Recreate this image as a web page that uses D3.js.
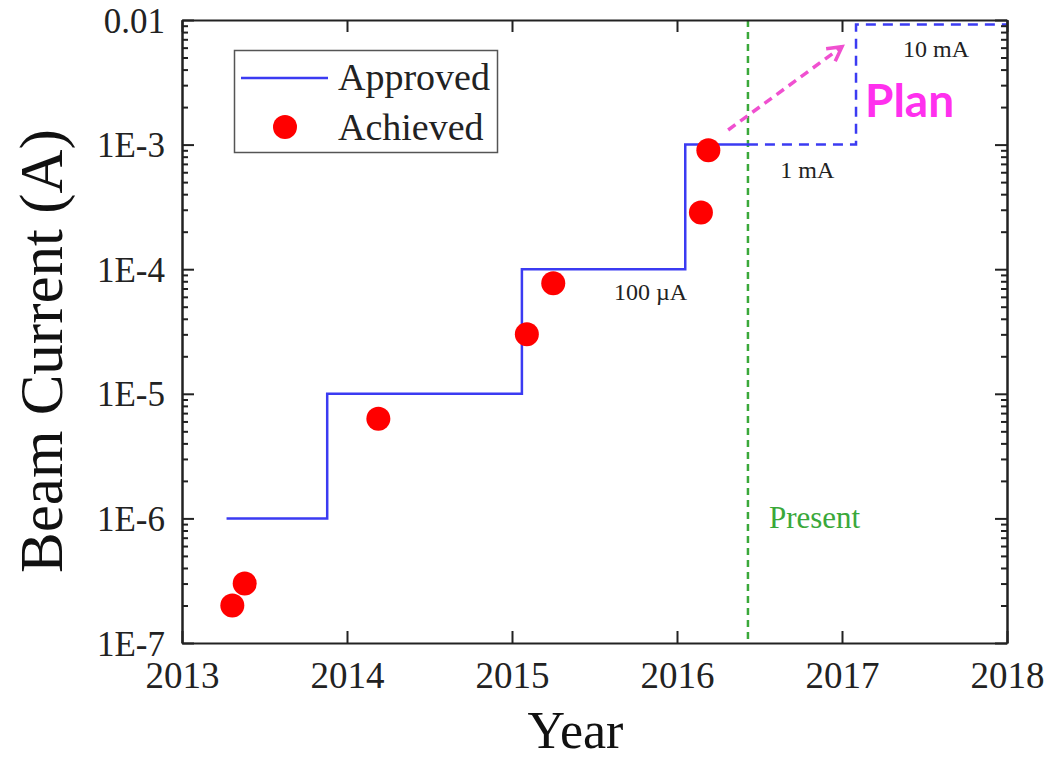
<!DOCTYPE html>
<html>
<head>
<meta charset="utf-8">
<script src="https://cdn.jsdelivr.net/npm/d3@7"></script>
<style>
  html, body { margin: 0; padding: 0; background: #fff; }
  svg { display: block; }
</style>
</head>
<body>
<svg id="chart" width="1052" height="759"></svg>
<script>
// Approved beam current limit (step changes) up to the present date
const approvedYears  = [2013.27, 2013.88, 2015.06, 2016.05, 2016.43];
const approvedValues = [1e-6, 1e-5, 1e-4, 1e-3, 1e-3];

// Planned upgrade path after the present date
const planYears  = [2016.43, 2017.085, 2018];
const planValues = [1e-3, 9.2e-3, 9.2e-3];

// Beam currents reached so far
const achievedYears  = [2013.305, 2013.38, 2014.19, 2015.09, 2015.25, 2016.145, 2016.19];
const achievedValues = [2e-7, 3e-7, 6.3e-6, 3e-5, 7.7e-5, 2.85e-4, 9e-4];

// Present-day marker
const presentYear = 2016.43;

// Arrow pointing toward the plan
const arrowYears  = [2016.31, 2017.0];
const arrowValues = [1.31e-3, 6.1e-3];

// Axis ticks
const yearTicks = [2013, 2014, 2015, 2016, 2017, 2018];
const yearTickLabels = ["2013", "2014", "2015", "2016", "2017", "2018"];
const currentTicks = [1e-7, 1e-6, 1e-5, 1e-4, 1e-3, 1e-2];
const currentTickLabels = ["1E-7", "1E-6", "1E-5", "1E-4", "1E-3", "0.01"];

// Current-level annotations
const levelLabels = [
  { text: "100 \u00b5A", year: 2015.84, value: 1e-4 },
  { text: "1 mA",       year: 2016.79, value: 1e-3 },
  { text: "10 mA",      year: 2017.57, value: 9.2e-3 }
];

const serif = "'Liberation Serif', 'Times New Roman', serif";
const blue = "#3b3bf2";
const red = "#ff0000";
const green = "#3aa83a";
const pink = "#f050d0";

const svg = d3.select("#chart");
const margin = { left: 182, top: 20, right: 1007, bottom: 643 };

const x = d3.scaleLinear().domain([2013, 2018]).range([margin.left, margin.right]);
const y = d3.scaleLog().domain([1e-7, 1e-2]).range([margin.bottom, margin.top]);

const fmtX = d => yearTickLabels[yearTicks.indexOf(d)];
const fmtY = d => currentTickLabels[currentTicks.findIndex(t => Math.abs(Math.log10(t) - Math.log10(d)) < 1e-6)];

// Minor log ticks (2..9 of each decade)
const minorTicks = y.ticks().filter(v => {
  const m = v / Math.pow(10, Math.floor(Math.log10(v) + 1e-9));
  return Math.abs(m - 1) > 1e-6;
});

// Present line (drawn beneath the data)
svg.append("line")
  .attr("x1", x(presentYear)).attr("x2", x(presentYear))
  .attr("y1", margin.top).attr("y2", margin.bottom)
  .attr("stroke", green).attr("stroke-width", 2.5)
  .attr("stroke-dasharray", "7,5");

svg.append("text")
  .attr("x", x(presentYear) + 21).attr("y", 528)
  .attr("font-family", serif).attr("font-size", 31)
  .attr("fill", green)
  .text("Present");

// Approved step line
const stepLine = d3.line()
  .x(d => x(d[0])).y(d => y(d[1]))
  .curve(d3.curveStepAfter);

svg.append("path")
  .datum(d3.zip(approvedYears, approvedValues))
  .attr("d", stepLine)
  .attr("fill", "none").attr("stroke", blue).attr("stroke-width", 2.5);

svg.append("path")
  .datum(d3.zip(planYears, planValues))
  .attr("d", stepLine)
  .attr("fill", "none").attr("stroke", blue).attr("stroke-width", 2.5)
  .attr("stroke-dasharray", "10,7");

// Achieved points
svg.append("g").selectAll("circle")
  .data(d3.zip(achievedYears, achievedValues))
  .join("circle")
  .attr("cx", d => x(d[0])).attr("cy", d => y(d[1]))
  .attr("r", 12).attr("fill", red);

// Level annotations
svg.append("g").selectAll("text")
  .data(levelLabels)
  .join("text")
  .attr("x", d => x(d.year))
  .attr("y", (d, i) => y(d.value) + [31, 33, 32][i])
  .attr("text-anchor", "middle")
  .attr("font-family", serif).attr("font-size", 24)
  .attr("fill", "#222")
  .text(d => d.text);

// Dashed arrow toward the plan
const ax1 = x(arrowYears[0]), ay1 = y(arrowValues[0]);
const ax2 = x(arrowYears[1]), ay2 = y(arrowValues[1]);
svg.append("line")
  .attr("x1", ax1).attr("y1", ay1).attr("x2", ax2).attr("y2", ay2)
  .attr("stroke", pink).attr("stroke-width", 3.5)
  .attr("stroke-dasharray", "9,6");
const ang = Math.atan2(ay2 - ay1, ax2 - ax1);
const head = 16, spread = 0.5;
svg.append("path")
  .attr("d", `M${ax2 - head * Math.cos(ang - spread)},${ay2 - head * Math.sin(ang - spread)}
              L${ax2},${ay2}
              L${ax2 - head * Math.cos(ang + spread)},${ay2 - head * Math.sin(ang + spread)}`)
  .attr("fill", "none").attr("stroke", pink).attr("stroke-width", 3.5)
  .attr("stroke-linejoin", "miter");

svg.append("text")
  .attr("x", 865).attr("y", 117)
  .attr("font-family", "Lato, 'Open Sans', sans-serif").attr("font-weight", "bold")
  .attr("font-size", 46).attr("fill", "#ff30ee")
  .text("Plan");

// Axes with inward ticks
const axisStyle = g => {
  g.selectAll(".domain").attr("stroke", "#222").attr("stroke-width", 2);
  g.selectAll(".tick line").attr("stroke", "#222").attr("stroke-width", 2);
};

svg.append("g")
  .attr("transform", `translate(0,${margin.bottom})`)
  .call(d3.axisBottom(x).tickValues(yearTicks).tickFormat(fmtX).tickSizeInner(-12).tickSizeOuter(0))
  .call(axisStyle)
  .call(g => g.selectAll(".tick text")
    .attr("y", 45).attr("dy", null)
    .attr("font-family", serif).attr("font-size", 37).attr("fill", "#222"));

svg.append("g")
  .attr("transform", `translate(0,${margin.top})`)
  .call(d3.axisTop(x).tickValues(yearTicks).tickFormat("").tickSizeInner(-12).tickSizeOuter(0))
  .call(axisStyle);

svg.append("g")
  .attr("transform", `translate(${margin.left},0)`)
  .call(d3.axisLeft(y).tickValues(currentTicks).tickFormat(fmtY).tickSizeInner(-12).tickSizeOuter(0))
  .call(axisStyle)
  .call(g => g.selectAll(".tick text")
    .attr("x", -17).attr("dy", 12)
    .attr("font-family", serif).attr("font-size", 35).attr("fill", "#222"));

svg.append("g")
  .attr("transform", `translate(${margin.right},0)`)
  .call(d3.axisRight(y).tickValues(currentTicks).tickFormat("").tickSizeInner(-12).tickSizeOuter(0))
  .call(axisStyle);

// Minor log ticks on both vertical axes
svg.append("g")
  .attr("transform", `translate(${margin.left},0)`)
  .call(d3.axisLeft(y).tickValues(minorTicks).tickFormat("").tickSizeInner(-6).tickSizeOuter(0))
  .call(axisStyle);
svg.append("g")
  .attr("transform", `translate(${margin.right},0)`)
  .call(d3.axisRight(y).tickValues(minorTicks).tickFormat("").tickSizeInner(-6).tickSizeOuter(0))
  .call(axisStyle);

// Axis titles
svg.append("text")
  .attr("x", (margin.left + margin.right) / 2 - 19).attr("y", 748)
  .attr("text-anchor", "middle")
  .attr("font-family", serif).attr("font-size", 52).attr("fill", "#111")
  .text("Year");

svg.append("text")
  .attr("transform", "translate(62,351) rotate(-90)")
  .attr("text-anchor", "middle")
  .attr("font-family", serif).attr("font-size", 61).attr("fill", "#111")
  .text("Beam Current (A)");

// Legend
const legend = svg.append("g");
legend.append("rect")
  .attr("x", 234.5).attr("y", 50.5).attr("width", 263).attr("height", 102)
  .attr("fill", "#fff").attr("stroke", "#555").attr("stroke-width", 1.5);
legend.append("line")
  .attr("x1", 241).attr("x2", 328).attr("y1", 78).attr("y2", 78)
  .attr("stroke", blue).attr("stroke-width", 2.5);
legend.append("circle")
  .attr("cx", 285).attr("cy", 127).attr("r", 12).attr("fill", red);
legend.append("text")
  .attr("x", 338).attr("y", 90)
  .attr("font-family", serif).attr("font-size", 38).attr("fill", "#222")
  .text("Approved");
legend.append("text")
  .attr("x", 338).attr("y", 140)
  .attr("font-family", serif).attr("font-size", 38).attr("fill", "#222")
  .text("Achieved");
</script>
</body>
</html>
